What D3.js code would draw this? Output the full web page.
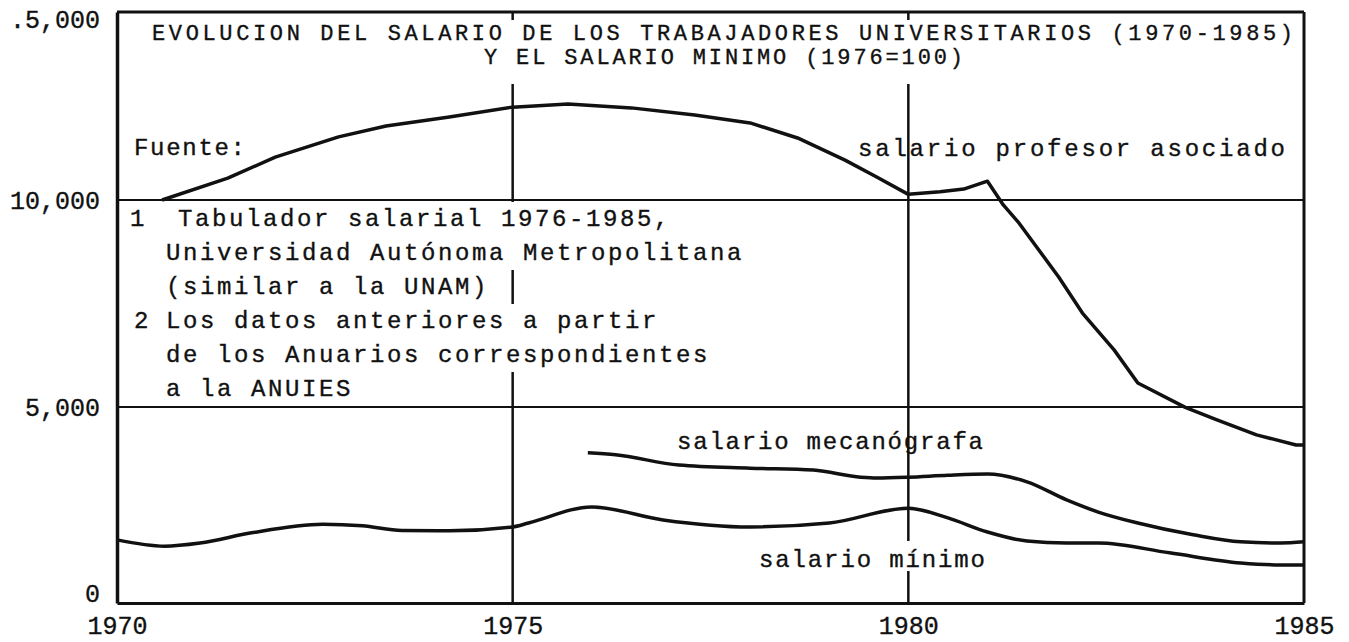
<!DOCTYPE html>
<html>
<head>
<meta charset="utf-8">
<script src="https://cdn.jsdelivr.net/npm/d3@7"></script>
<style>
  body { margin: 0; background: #fff; }
  text { font-family: "Liberation Mono", "DejaVu Sans Mono", monospace; fill: #111; stroke: #111; stroke-width: 0.35; }
</style>
</head>
<body>
<div id="chart"></div>
<script>
// axis ticks
const xTicks = [1970, 1975, 1980, 1985];
const yTicks = [0, 5000, 10000, 15000];
const yTickLabels = ['0', '5,000', '10,000', '.5,000'];

// salario profesor asociado
const profYears = [1970.57, 1971.4, 1972.0, 1972.8, 1973.4, 1974.2, 1975.0, 1975.7, 1976.5, 1977.3, 1978.0, 1978.6, 1979.2, 1979.6, 1980.0, 1980.4, 1980.7, 1981.0, 1981.2, 1981.4, 1981.9, 1982.2, 1982.6, 1982.9, 1983.5, 1983.9, 1984.4, 1984.9, 1985.0];
const profValues = [10000, 10580, 11140, 11680, 11970, 12210, 12470, 12550, 12450, 12260, 12050, 11650, 11060, 10610, 10150, 10220, 10290, 10500, 9880, 9440, 8140, 7270, 6380, 5580, 4990, 4670, 4290, 4030, 4030];

// salario mecanografa
const mecaYears = [1975.95, 1976.3, 1977.1, 1978.0, 1978.8, 1979.4, 1979.6, 1980.0, 1980.5, 1981.0, 1981.5, 1982.0, 1982.4, 1982.9, 1983.6, 1984.2, 1984.7, 1985.0];
const mecaValues = [3830, 3780, 3520, 3440, 3390, 3210, 3190, 3210, 3260, 3290, 3090, 2630, 2320, 2040, 1740, 1560, 1530, 1560];

// salario minimo
const minYears = [1970.0, 1970.6, 1971.05, 1971.7, 1972.6, 1973.1, 1973.6, 1974.2, 1975.0, 1975.2, 1976.0, 1976.9, 1978.0, 1979.0, 1980.0, 1980.5, 1981.0, 1981.5, 1982.0, 1982.4, 1983.3, 1984.2, 1984.7, 1985.0];
const minValues = [1610, 1450, 1530, 1790, 2010, 1970, 1850, 1840, 1940, 2040, 2450, 2120, 1940, 2040, 2420, 2170, 1810, 1580, 1530, 1530, 1280, 1020, 970, 970];

const titleLines = ['EVOLUCION DEL SALARIO DE LOS TRABAJADORES UNIVERSITARIOS (1970-1985)', 'Y EL SALARIO MINIMO (1976=100)'];
const footNumbers = ['1', '', '', '2', '', ''];
const footLines = ['Tabulador salarial 1976-1985,', 'Universidad Autónoma Metropolitana', '(similar a la UNAM)', 'Los datos anteriores a partir', 'de los Anuarios correspondientes', 'a la ANUIES'];

const width = 1349, height = 642;
const svg = d3.select('#chart').append('svg')
    .attr('width', width)
    .attr('height', height);

const x = d3.scaleLinear().domain([1970, 1985]).range([117, 1304]);
// hand drawn grid is a bit uneven, so a piecewise scale
const y = d3.scaleLinear().domain(yTicks).range([603, 407, 200, 12]);

//grid, the top one is the frame
svg.append('g').selectAll('rect')
    .data([5000, 10000, 15000])
    .join('rect')
    .attr('x', x(1970)).attr('width', x(1985) - x(1970))
    .attr('y', d => y(d) - (d === 15000 ? 1.5 : 1))
    .attr('height', d => d === 15000 ? 3 : 2)
    .attr('fill', '#111');

svg.append('g').selectAll('line')
    .data([1975, 1980])
    .join('line')
    .attr('x1', d => x(d)).attr('x2', d => x(d))
    .attr('y1', y(15000)).attr('y2', y(0))
    .attr('stroke', '#111').attr('stroke-width', 2.5);

// right border
svg.append('line')
    .attr('x1', x(1985)).attr('x2', x(1985))
    .attr('y1', y(15000)).attr('y2', y(0))
    .attr('stroke', '#111')
    .attr('stroke-width', 3);

//axes
const xAxis = svg.append('g')
    .attr('transform', `translate(0,${y(0)})`)
    .call(d3.axisBottom(x).tickValues(xTicks).tickSize(0).tickPadding(13).tickFormat(d => '' + d));
xAxis.select('.domain').attr('stroke', '#111').attr('stroke-width', 3);

const yAxis = svg.append('g')
    .attr('transform', `translate(${x(1970)},0)`)
    .call(d3.axisLeft(y).tickValues(yTicks).tickSize(0).tickPadding(17)
        .tickFormat((d, i) => yTickLabels[i]));
yAxis.select('.domain').attr('stroke', '#111').attr('stroke-width', 3.5);
yAxis.selectAll('.tick text')
    .attr('dy', d => d === 0 ? '-0.05em' : (d === 15000 ? '0.6em' : '0.32em'));

svg.selectAll('.tick text')
    .attr('font-family', '"Liberation Mono", monospace')
    .attr('font-size', 25)
    .attr('fill', '#111');

// title, typed over the grid
const title = svg.append('g');
const titleY = [40, 64];
title.selectAll('rect')
    .data(titleLines)
    .join('rect')
    .attr('x', (d, i) => i == 0 ? 150 : 480)
    .attr('width', (d, i) => i == 0 ? 1146 : 488)
    .attr('y', (d, i) => i == 0 ? 20 : 46)
    .attr('height', (d, i) => i == 0 ? 26 : 38)
    .attr('fill', '#fff')
    .attr('stroke', 'none');
title.selectAll('text')
    .data(titleLines)
    .join('text')
    .attr('x', (d, i) => i == 0 ? 152 : 484)
    .attr('y', (d, i) => titleY[i])
    .attr('font-size', 22)
    .attr('textLength', (d, i) => i == 0 ? 1141 : 479)
    .attr('lengthAdjust', 'spacing')
    .text(d => d);

svg.append('text')
    .attr('x', 134).attr('y', 155)
    .attr('font-size', 24)
    .attr('textLength', 111)
    .text('Fuente:');

// footnotes
const foot = svg.append('g');
const rowY = i => 226 + i * 34;
const footRows = foot.selectAll('g')
    .data(footLines)
    .join('g');
footRows.append('rect')
    .attr('fill', '#fff')
    .attr('stroke', 'none');
footRows.append('text')
    .attr('class', 'ftxt')
    .attr('x', (d, i) => i == 0 ? 178 : 166)
    .attr('y', (d, i) => rowY(i))
    .attr('font-size', 24)
    .attr('letter-spacing', 2.6)
    .text(d => d);
footRows.append('text')
    .attr('x', (d, i) => i == 0 ? 130 : 134)
    .attr('y', (d, i) => rowY(i))
    .attr('font-size', 24)
    .text((d, i) => footNumbers[i]);
footRows.each(function (d, i) {
    const t = d3.select(this).select('.ftxt');
    const w = t.node().getComputedTextLength();
    d3.select(this).select('rect')
        .attr('x', 126)
        .attr('width', (i == 0 ? 178 : 166) - 126 + w + 4)
        .attr('y', rowY(i) - 24)
        .attr('height', 34);
});

// series
const line = d3.line()
    .x(d => x(d[0]))
    .y(d => y(d[1]));

const series = [
    { years: profYears, values: profValues, curve: d3.curveLinear },
    { years: mecaYears, values: mecaValues, curve: d3.curveMonotoneX },
    { years: minYears, values: minValues, curve: d3.curveMonotoneX }
];

svg.append('g').selectAll('path')
    .data(series)
    .join('path')
    .attr('fill', 'none')
    .attr('stroke', '#111')
    .attr('stroke-width', 3.5)
    .attr('stroke-linejoin', 'round')
    .attr('d', s => line.curve(s.curve)(s.years.map((yr, i) => [yr, s.values[i]])));

// series labels
svg.append('text')
    .attr('x', 858).attr('y', 156)
    .attr('font-size', 24)
    .attr('textLength', 427)
    .text('salario profesor asociado');

svg.append('text')
    .attr('x', 677).attr('y', 449)
    .attr('font-size', 24)
    .attr('textLength', 306)
    .text('salario mecanógrafa');

svg.append('rect')
    .attr('x', 754).attr('y', 541)
    .attr('width', 236).attr('height', 30)
    .attr('fill', '#fff');
svg.append('text')
    .attr('x', 759).attr('y', 567)
    .attr('font-size', 24)
    .attr('textLength', 226)
    .text('salario mínimo');
</script>
</body>
</html>
